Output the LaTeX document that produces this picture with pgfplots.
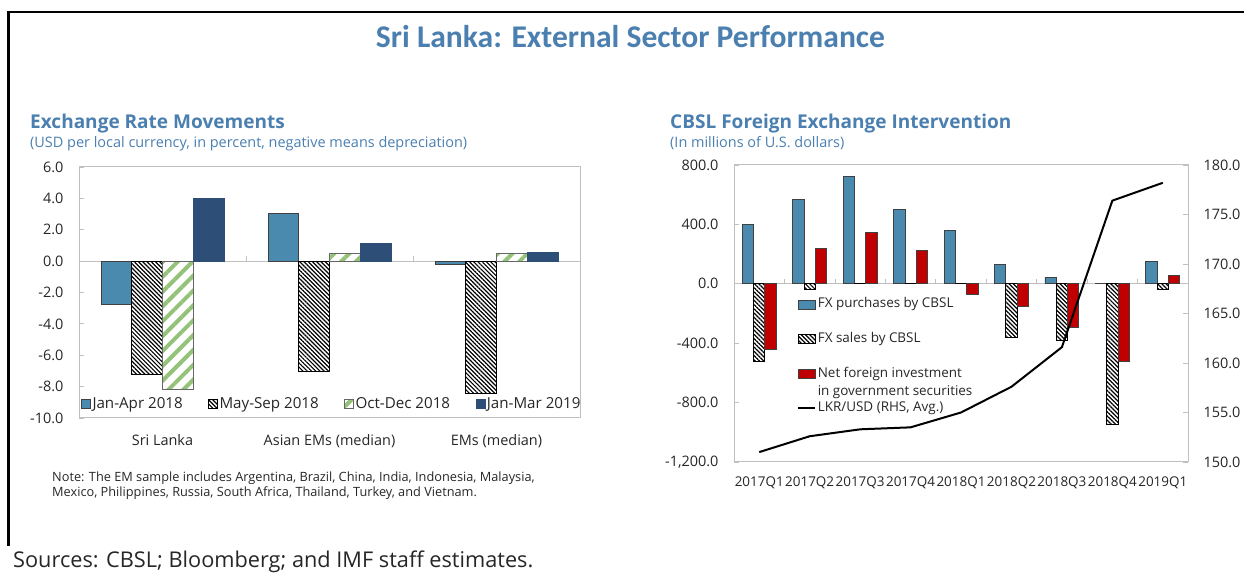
\documentclass[border=0pt]{standalone}
\usepackage{fontspec}
\setmainfont{Open Sans}
\newfontfamily\carlito{Carlito}
\usepackage{pgfplots}
\pgfplotsset{compat=1.18}
\usetikzlibrary{patterns.meta}
\definecolor{ttl}{HTML}{4A7FB0}
\definecolor{barblue}{HTML}{4A8AAF}
\definecolor{navy}{HTML}{2D4E77}
\definecolor{hgreen}{HTML}{94C279}
\definecolor{dred}{HTML}{C00000}
\definecolor{framegray}{HTML}{C0C0C0}
\definecolor{txt}{HTML}{262626}
\pgfplotsset{
  sqleg/.style={legend image code/.code={\draw[##1,line width=0.8bp] (0bp,-4.5bp) rectangle (9bp,4.5bp);}},
  rectleg/.style={legend image code/.code={\draw[##1,line width=0.8bp] (0bp,-4.5bp) rectangle (17bp,4.5bp);}},
  lineleg/.style={legend image code/.code={\draw[##1] (0bp,0bp) -- (17bp,0bp);}},
  mybase/.style={
    scale only axis,
    /pgf/number format/assume math mode=true,
    tick align=inside, major tick length=5bp,
    tick style={framegray, line width=0.8bp},
    axis line style={framegray, line width=1bp},
    major x tick style={draw=none},
    tick label style={text=txt},
  },
}
\begin{document}
\begin{tikzpicture}[x=1bp,y=1bp]
\path[use as bounding box] (0,0) rectangle (1244,573);
% frame
\draw[line width=2.5bp] (8.7,27) -- (8.7,561) -- (1260,561);
% titles
\node[anchor=base, inner sep=0, text=ttl, font=\carlito\bfseries\fontsize{31.7}{36}\selectfont] at (630.5,525) {Sri Lanka: External Sector Performance};
\node[anchor=base west, inner sep=0, text=ttl, font=\bfseries\fontsize{19.1}{23}\selectfont] at (30,444) {Exchange Rate Movements};
\node[anchor=base west, inner sep=0, text=ttl, font=\fontsize{14.5}{17}\selectfont] at (30,425) {(USD per local currency, in percent, negative means depreciation)};
\node[anchor=base west, inner sep=0, text=ttl, font=\bfseries\fontsize{19.1}{23}\selectfont] at (670,444) {CBSL Foreign Exchange Intervention};
\node[anchor=base west, inner sep=0, text=ttl, font=\fontsize{14.5}{17}\selectfont] at (670,425) {(In millions of U.S. dollars)};
% notes
\node[anchor=base west, inner sep=0, text=txt, font=\fontsize{12.8}{15}\selectfont] at (52,91) {Note: The EM sample includes Argentina, Brazil, China, India, Indonesia, Malaysia,};
\node[anchor=base west, inner sep=0, text=txt, font=\fontsize{12.8}{15}\selectfont] at (52,76) {Mexico, Philippines, Russia, South Africa, Thailand, Turkey, and Vietnam.};
\node[anchor=base west, inner sep=0, text=txt, font=\fontsize{21.8}{26}\selectfont] at (13,5.5) {Sources: CBSL; Bloomberg; and IMF staff estimates.};

% ---------------- left chart
\begin{axis}[mybase,
  at={(79bp,155bp)}, anchor=south west, width=501bp, height=251bp,
  xmin=-0.5, xmax=2.5, ymin=-10, ymax=6,
  ybar=0pt, bar width=30.7bp,
  xtick={0,1,2}, xticklabels={Sri Lanka, Asian EMs (median), EMs (median)},
  xticklabel style={anchor=base, yshift=-23bp, font=\fontsize{14.5}{17}\selectfont},
  ytick={-10,-8,-6,-4,-2,0,2,4,6}, ytick pos=left,
  yticklabel style={anchor=east, xshift=-12bp, font=\fontsize{14.5}{17}\selectfont},
  yticklabel={\pgfmathprintnumber[fixed,fixed zerofill,precision=1]{\tick}},
  legend columns=4,
  legend style={at={(0.004,0.056)}, anchor=west, draw=none, fill=none, inner sep=0pt,
    font=\fontsize{15.2}{18}\selectfont, text=txt,
    nodes={inner xsep=1.5bp, inner ysep=0bp},
    /tikz/every even column/.append style={column sep=24bp}},
]
\draw[framegray, line width=1bp] (axis cs:-0.5,0) -- (axis cs:2.5,0);
\draw[framegray, line width=0.8bp] (axis cs:0.5,0) -- (axis cs:0.5,0.32);
\draw[framegray, line width=0.8bp] (axis cs:1.5,0) -- (axis cs:1.5,0.32);
\addplot[sqleg, fill=barblue, draw=black!75, line width=0.8bp] coordinates {(0,-2.75) (1,3.05) (2,-0.2)};
\addlegendentry{Jan-Apr 2018}
\addplot[sqleg, pattern={Lines[angle=-45,distance=3bp,line width=1.2bp]}, pattern color=black, draw=black, line width=0.8bp] coordinates {(0,-7.25) (1,-7.05) (2,-8.45)};
\addlegendentry{May-Sep 2018}
\addplot[sqleg, pattern={Lines[angle=45,distance=10.5bp,line width=4bp]}, pattern color=hgreen, draw=black!60, line width=0.8bp] coordinates {(0,-8.15) (1,0.5) (2,0.5)};
\addlegendentry{Oct-Dec 2018}
\addplot[sqleg, fill=navy, draw=navy, line width=0.8bp] coordinates {(0,4.0) (1,1.15) (2,0.55)};
\addlegendentry{Jan-Mar 2019}
\end{axis}

% ---------------- right chart (bars)
\begin{axis}[mybase,
  at={(734bp,111bp)}, anchor=south west, width=454bp, height=297bp,
  xmin=-0.5, xmax=8.5, ymin=-1200, ymax=800,
  ybar=0pt, bar width=11.3bp,
  xtick={0,...,8}, xticklabels={2017Q1,2017Q2,2017Q3,2017Q4,2018Q1,2018Q2,2018Q3,2018Q4,2019Q1},
  xticklabel style={anchor=base, yshift=-20bp, font=\fontsize{13.5}{16}\selectfont},
  ytick={-1200,-800,-400,0,400,800}, ytick pos=left,
  yticklabel style={anchor=east, xshift=-12bp, font=\fontsize{14.5}{17}\selectfont},
  yticklabel={\pgfmathprintnumber[fixed,fixed zerofill,precision=1,1000 sep={,}]{\tick}},
  legend cell align=left,
  legend style={at={(0.139,0.553)}, anchor=north west, draw=none, fill=none, inner sep=0pt,
    font=\fontsize{13.5}{16}\selectfont, text=txt, row sep=21.6bp,
    nodes={inner xsep=1.5bp, inner ysep=0bp, text height=10bp, text depth=3bp}},
]
\draw[framegray, line width=1bp] (axis cs:-0.5,0) -- (axis cs:8.5,0);
\pgfplotsinvokeforeach{0.5,1.5,2.5,3.5,4.5,5.5,6.5,7.5}{\draw[framegray, line width=0.8bp] (axis cs:#1,0) -- (axis cs:#1,34);}
\addplot[rectleg, fill=barblue, draw=black!75, line width=0.8bp] coordinates {(0,400) (1,570) (2,720) (3,500) (4,360) (5,130) (6,45) (7,5) (8,150)};
\addlegendentry{FX purchases by CBSL}
\addplot[rectleg, pattern={Lines[angle=-45,distance=3bp,line width=1.2bp]}, pattern color=black, draw=black, line width=0.8bp] coordinates {(0,-520) (1,-40) (2,0) (3,0) (4,0) (5,-360) (6,-380) (7,-945) (8,-35)};
\addlegendentry{FX sales by CBSL}
\addplot[rectleg, fill=dred, draw=black!75, line width=0.8bp] coordinates {(0,-445) (1,240) (2,345) (3,222) (4,-70) (5,-150) (6,-295) (7,-525) (8,55)};
\addlegendentry{\makebox[0pt][l]{\smash{\raisebox{-18.3bp}{in government securities}}}Net foreign investment}
\addlegendimage{black, line width=2bp, lineleg}
\addlegendentry{LKR/USD (RHS, Avg.)}
\end{axis}

% ---------------- right chart (line)
\begin{axis}[mybase,
  at={(734bp,111bp)}, anchor=south west, width=454bp, height=297bp,
  xmin=-0.5, xmax=8.5, ymin=150, ymax=180,
  axis x line=none, axis y line*=right,
  ytick={150,155,160,165,170,175,180},
  yticklabel style={anchor=west, xshift=12bp, font=\fontsize{14.5}{17}\selectfont},
  yticklabel={\pgfmathprintnumber[fixed,fixed zerofill,precision=1]{\tick}},
]
\addplot[black, line width=2bp, mark=none] coordinates {(0,151.0) (1,152.6) (2,153.3) (3,153.5) (4,155.0) (5,157.6) (6,161.6) (7,176.4) (8,178.2)};
\end{axis}
\end{tikzpicture}
\end{document}
